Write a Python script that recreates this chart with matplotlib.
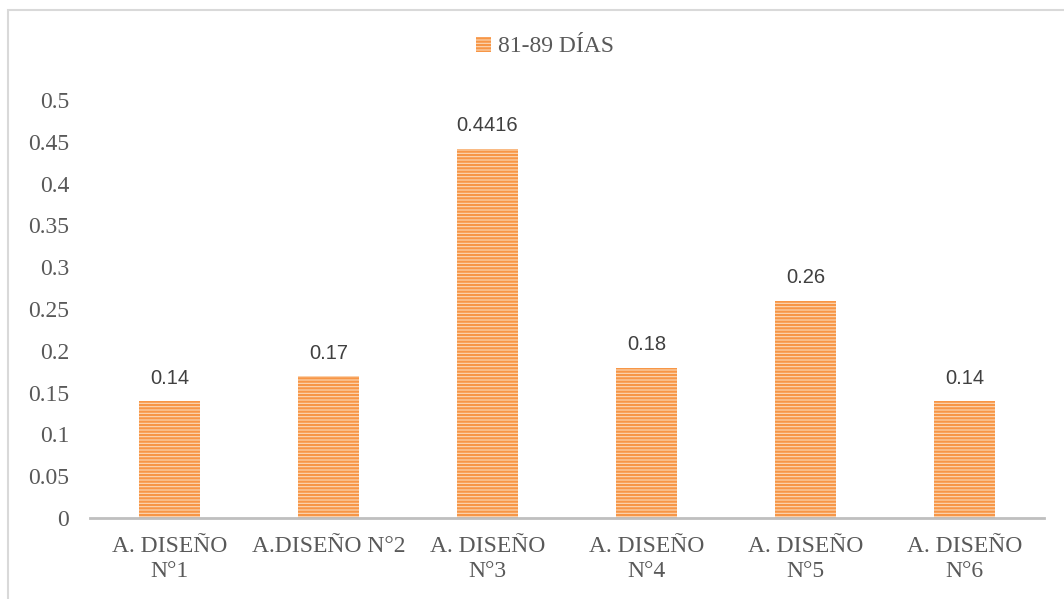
import matplotlib
matplotlib.use("Agg")
import matplotlib.pyplot as plt
from matplotlib.patches import Rectangle

categories = ["A. DISEÑO\nN°1", "A.DISEÑO N°2", "A. DISEÑO\nN°3", "A. DISEÑO\nN°4", "A. DISEÑO\nN°5", "A. DISEÑO\nN°6"]
values = [0.14, 0.17, 0.4416, 0.18, 0.26, 0.14]
value_labels = ["0.14", "0.17", "0.4416", "0.18", "0.26", "0.14"]
series_name = "81-89 DÍAS"
yticks = [0, 0.05, 0.1, 0.15, 0.2, 0.25, 0.3, 0.35, 0.4, 0.45, 0.5]
ytick_labels = ["0", "0.05", "0.1", "0.15", "0.2", "0.25", "0.3", "0.35", "0.4", "0.45", "0.5"]

plt.rcParams['hatch.linewidth'] = 1.6
fig = plt.figure(figsize=(10.64, 5.99), dpi=100)
ax = fig.add_axes([90/1064, 1-518/599, 954/1064, 418/599])

x = list(range(len(categories)))
bars = ax.bar(x, values, width=0.38, color="#FCD9B8", edgecolor="#F79646",
              hatch="-----", linewidth=0, label=series_name)
for xi, v, lab in zip(x, values, value_labels):
    ax.text(xi, v + 0.016, lab, ha="center", va="bottom", fontsize=14.5,
            family="Liberation Sans", color="#404040")

ax.set_xlim(-0.5, len(categories) - 0.5)
ax.set_ylim(0, 0.5)
ax.set_yticks(yticks)
ax.set_yticklabels(ytick_labels, family="Liberation Serif", fontsize=17, color="#595959")
ax.set_xticks(x)
ax.set_xticklabels(categories, family="Liberation Serif", fontsize=17, color="#595959", linespacing=1.25)
ax.tick_params(axis="y", length=0, pad=15)
ax.tick_params(axis="x", length=0, pad=13)
for s in ["top", "right", "left"]:
    ax.spines[s].set_visible(False)
ax.spines["bottom"].set_color("#BFBFBF")
ax.spines["bottom"].set_linewidth(2)

leg = fig.legend(loc="center", bbox_to_anchor=(545/1064, 1-47/599), frameon=False,
                 prop={"family": "Liberation Serif", "size": 17}, handlelength=0.6,
                 handleheight=0.6, handletextpad=0.3)
for t in leg.get_texts():
    t.set_color("#595959")

fig.patches.append(Rectangle((8/1064, -0.1), 1.2, 1 - 10/599 + 0.1, transform=fig.transFigure,
                             fill=False, edgecolor="#D9D9D9", linewidth=1.5))

fig.savefig("out.png", dpi=100)
